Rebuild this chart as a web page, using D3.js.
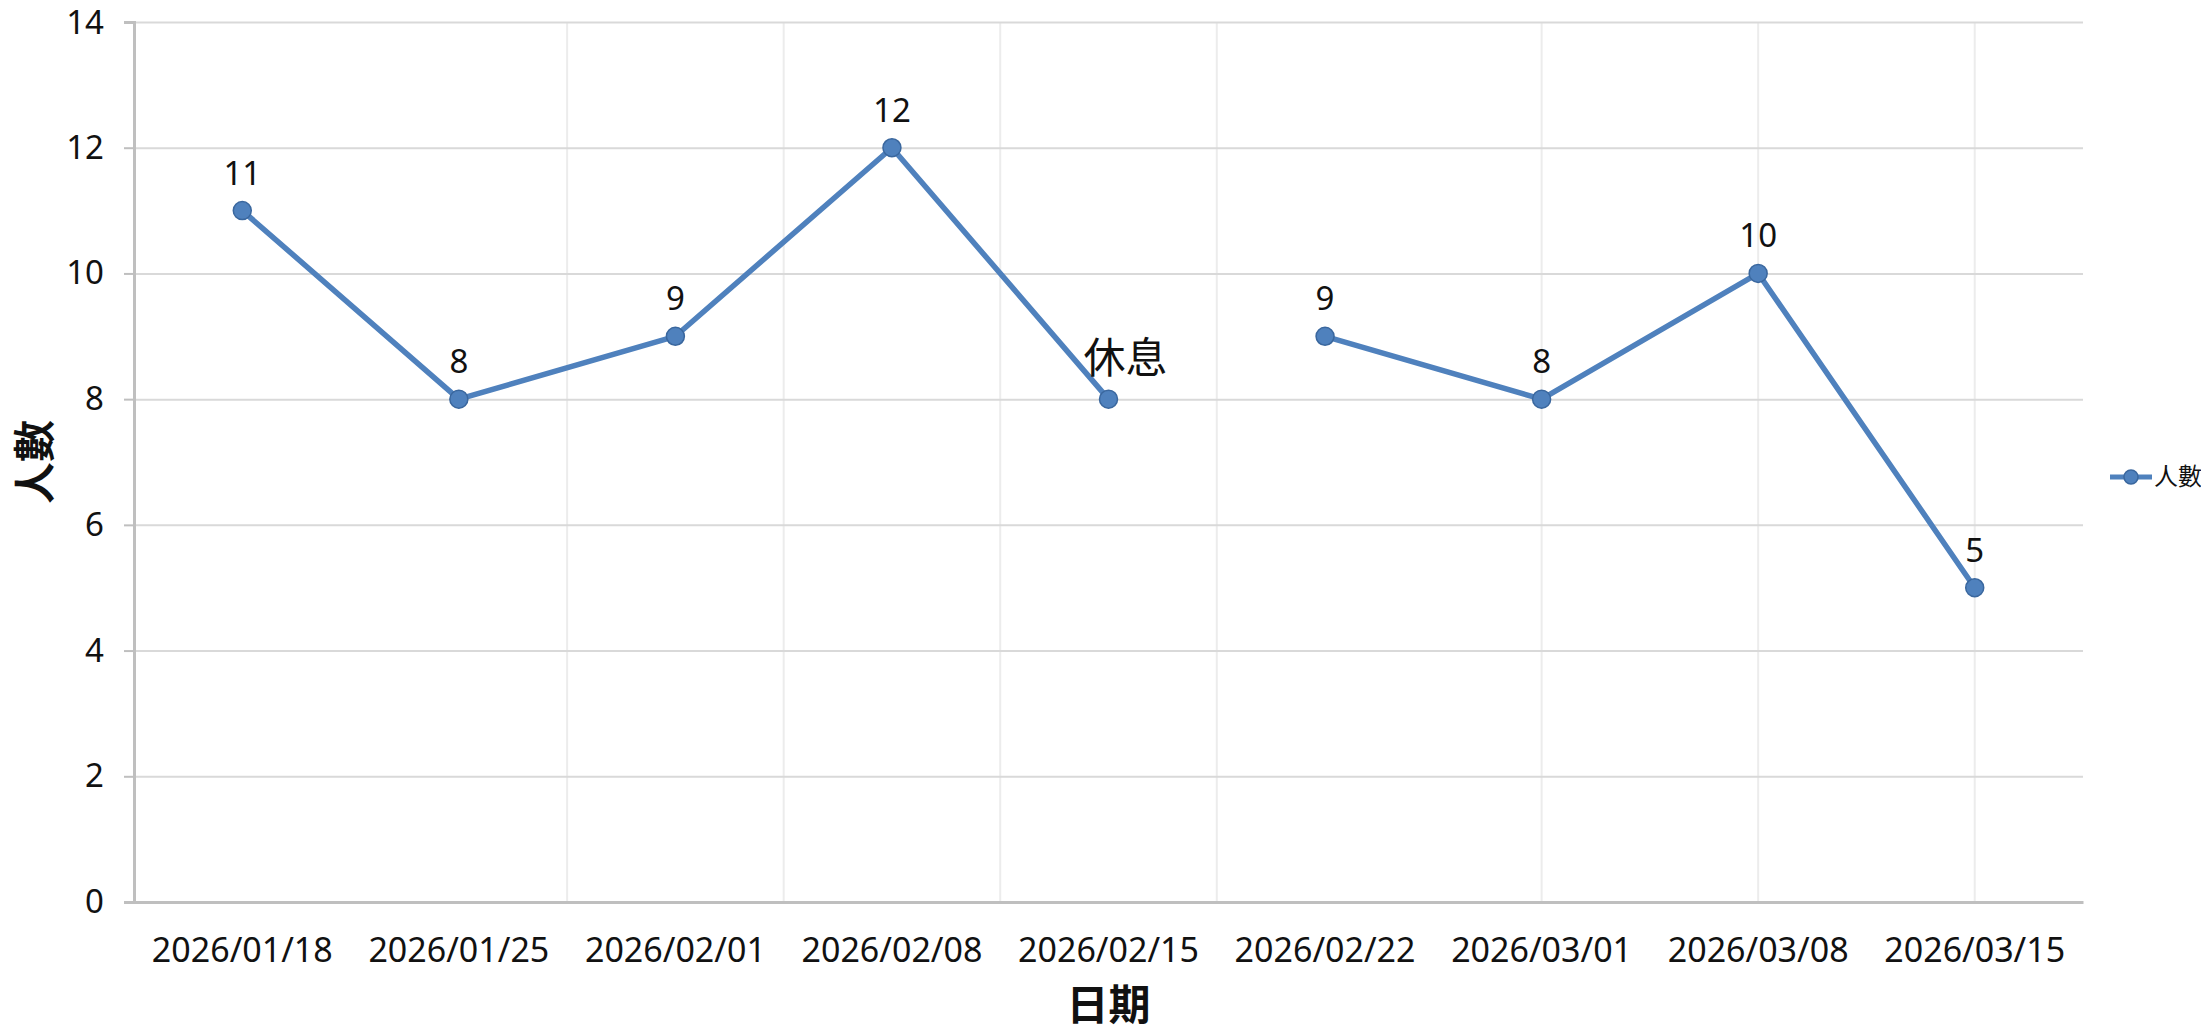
<!DOCTYPE html>
<html>
<head>
<meta charset="utf-8">
<script src="https://cdn.jsdelivr.net/npm/d3@7/dist/d3.min.js"></script>
<style>
  body { margin: 0; background: #fff; }
  svg text { font-family: "Noto Sans", "Noto Sans CJK TC", sans-serif; fill: #111; }
  .cjk { font-family: "Noto Sans CJK TC", "Noto Sans", sans-serif; }
</style>
</head>
<body>
<script>
var dates = ["2026/01/18", "2026/01/25", "2026/02/01", "2026/02/08", "2026/02/15",
             "2026/02/22", "2026/03/01", "2026/03/08", "2026/03/15"];
var counts = [11, 8, 9, 12, 8, 9, 8, 10, 5];
var pointLabels = ["11", "8", "9", "12", "休息", "9", "8", "10", "5"];
var runs = [[0, 4], [5, 8]]; // the line is broken between 02/15 and 02/22
var yTicks = [0, 2, 4, 6, 8, 10, 12, 14];
var gridOnEdge = ["2026/02/01", "2026/02/08", "2026/02/15", "2026/02/22"]; // left edge of these
var gridOnCenter = ["2026/03/01", "2026/03/08", "2026/03/15"];             // through these points

var W = 2201, H = 1033;
var m = {left: 134, right: 2083, top: 22, bottom: 902};
var blue = "#4f81bd", blueDark = "#3a679e";

var svg = d3.select("body").append("svg")
  .attr("width", W).attr("height", H);

var x = d3.scaleBand().domain(dates).range([m.left, m.right]);
var y = d3.scaleLinear().domain([0, 14]).range([m.bottom, m.top]);
var cx = function (d) { return x(d) + x.bandwidth() / 2; };

// vertical grid (the picture only has some of them)
var vg = svg.append("g");
vg.selectAll("line.e").data(gridOnEdge).enter().append("line")
  .attr("x1", function (d) { return x(d); }).attr("x2", function (d) { return x(d); })
  .attr("y1", m.top).attr("y2", m.bottom)
  .attr("stroke", "#ececec").attr("stroke-width", 2);
vg.selectAll("line.c").data(gridOnCenter).enter().append("line")
  .attr("x1", cx).attr("x2", cx)
  .attr("y1", m.top).attr("y2", m.bottom)
  .attr("stroke", "#ececec").attr("stroke-width", 2);

// horizontal grid + y axis
svg.append("g")
  .attr("transform", "translate(" + m.left + ",0)")
  .call(d3.axisLeft(y).tickValues(yTicks).tickSize(-(m.right - m.left)).tickFormat(""))
  .call(function (g) {
    g.select(".domain").remove();
    g.selectAll("line").attr("stroke", "#d9d9d9").attr("stroke-width", 2);
  });

var yAxis = svg.append("g")
  .attr("transform", "translate(" + m.left + ",0)")
  .call(d3.axisLeft(y).tickValues(yTicks).tickSize(10).tickPadding(20));
yAxis.select(".domain").attr("stroke", "#bfbfbf").attr("stroke-width", 3);
yAxis.selectAll(".tick line").attr("stroke", "#bfbfbf").attr("stroke-width", 2);
yAxis.selectAll("text").style("font-size", "33px").attr("fill", "#111");
// the top label sits close to the edge; pull its baseline down a touch
yAxis.selectAll(".tick").filter(function (d) { return d === 14; })
  .select("text").attr("dy", "0.36em");

var xAxis = svg.append("g")
  .attr("transform", "translate(0," + m.bottom + ")")
  .call(d3.axisBottom(x).tickSize(0).tickPadding(36).tickSizeOuter(0));
xAxis.select(".domain").attr("stroke", "#bfbfbf").attr("stroke-width", 3);
xAxis.selectAll("text").style("font-size", "34px").attr("fill", "#111");

// series
var line = d3.line()
  .x(function (i) { return cx(dates[i]); })
  .y(function (i) { return y(counts[i]); });

svg.selectAll("path.run").data(runs).enter().append("path")
  .attr("class", "run")
  .attr("d", function (r) { return line(d3.range(r[0], r[1] + 1)); })
  .attr("fill", "none").attr("stroke", blue).attr("stroke-width", 5.5)
  .attr("stroke-linejoin", "round");

svg.selectAll("circle.pt").data(counts).enter().append("circle")
  .attr("class", "pt")
  .attr("cx", function (d, i) { return cx(dates[i]); })
  .attr("cy", function (d) { return y(d); })
  .attr("r", 9)
  .attr("fill", blue).attr("stroke", blueDark).attr("stroke-width", 1.5);

svg.selectAll("text.lbl").data(counts).enter().append("text")
  .attr("class", function (d, i) { return isNaN(+pointLabels[i]) ? "lbl cjk" : "lbl"; })
  .attr("x", function (d, i) { return cx(dates[i]) + (isNaN(+pointLabels[i]) ? 17 : 0); })
  .attr("y", function (d) { return y(d) - 26; })
  .attr("text-anchor", "middle")
  .style("font-size", function (d, i) { return isNaN(+pointLabels[i]) ? "42px" : "33px"; })
  .text(function (d, i) { return pointLabels[i]; });

// axis titles
svg.append("text").attr("class", "cjk")
  .attr("transform", "translate(50," + (m.top + m.bottom) / 2 + ") rotate(-90)")
  .attr("text-anchor", "middle")
  .style("font-size", "42px").style("font-weight", "bold")
  .text("人數");

svg.append("text").attr("class", "cjk")
  .attr("x", (m.left + m.right) / 2).attr("y", 1020)
  .attr("text-anchor", "middle")
  .style("font-size", "42px").style("font-weight", "bold")
  .text("日期");

// legend
var lg = svg.append("g").attr("transform", "translate(2110,477)");
lg.append("line").attr("x1", 0).attr("x2", 42).attr("y1", 0).attr("y2", 0)
  .attr("stroke", blue).attr("stroke-width", 5);
lg.append("circle").attr("cx", 21).attr("cy", 0).attr("r", 7)
  .attr("fill", blue).attr("stroke", blueDark).attr("stroke-width", 1.5);
lg.append("text").attr("class", "cjk").attr("x", 44).attr("y", 8)
  .style("font-size", "24px").text("人數");
</script>
</body>
</html>
